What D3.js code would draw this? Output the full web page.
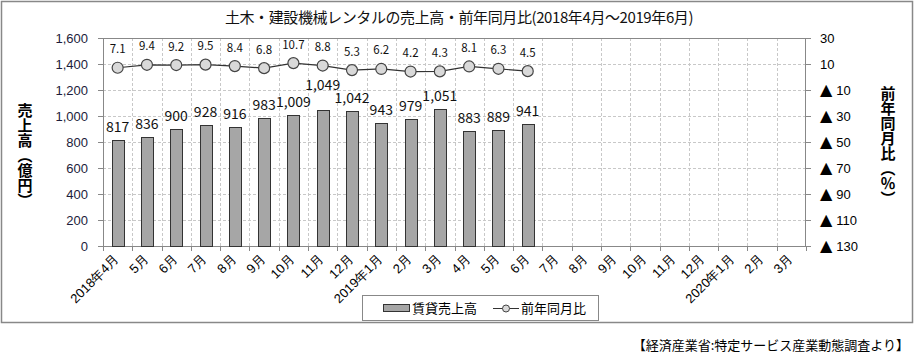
<!DOCTYPE html>
<html><head><meta charset="utf-8">
<script src="https://cdn.jsdelivr.net/npm/d3@7"></script>
<style>
body{margin:0;background:#fff;}
svg{display:block;font-family:"Noto Sans CJK JP","Noto Sans",sans-serif;}
</style></head>
<body><svg id="c" width="914" height="357"></svg>
<script>
const months = ["2018年4月","5月","6月","7月","8月","9月","10月","11月","12月","2019年1月","2月","3月","4月","5月","6月","7月","8月","9月","10月","11月","12月","2020年1月","2月","3月"];
const sales = [817,836,900,928,916,983,1009,1049,1042,943,979,1051,883,889,941];
const yoy = [7.1,9.4,9.2,9.5,8.4,6.8,10.7,8.8,5.3,6.2,4.2,4.3,8.1,6.3,4.5];
const leftTicks = [0,200,400,600,800,1000,1200,1400,1600];
const rightTicks = [30,10,-10,-30,-50,-70,-90,-110,-130];
const titleText = "土木・建設機械レンタルの売上高・前年同月比(2018年4月～2019年6月)";
const leftTitle = "売上高（億円）";
const rightTitle = "前年同月比（％）";
const legendBar = "賃貸売上高";
const legendLine = "前年同月比";
const sourceText = "【経済産業省:特定サービス産業動態調査より】";

const svg = d3.select("#c");
const P = {l:103, r:806, t:38, b:246};

// outer frame
svg.append("rect").attr("x",1.5).attr("y",1.5).attr("width",911).attr("height",321)
  .attr("fill","#fff").attr("stroke","#888").attr("stroke-width",1.5);

svg.append("text").attr("x",459).attr("y",23).attr("text-anchor","middle")
  .attr("font-size",15).attr("letter-spacing",-0.4).attr("fill","#111").text(titleText);

const idx = d3.range(months.length);
const x = d3.scaleBand().domain(idx).range([P.l,P.r]).padding(0);
const yL = d3.scaleLinear().domain([0,1600]).range([P.b,P.t]);
const yR = d3.scaleLinear().domain([-130,30]).range([P.b,P.t]);
const cx = i => x(i) + x.bandwidth()/2;

// grid
const g = svg.append("g");
g.selectAll("line.h").data(leftTicks.slice(1,-1)).join("line")
  .attr("x1",P.l).attr("x2",P.r).attr("y1",d=>Math.round(yL(d))+0.5).attr("y2",d=>Math.round(yL(d))+0.5)
  .attr("stroke","#c8c8c8").attr("stroke-dasharray","3,2");
g.selectAll("line.v").data(idx.slice(1)).join("line")
  .attr("x1",d=>Math.round(x(d))+0.5).attr("x2",d=>Math.round(x(d))+0.5).attr("y1",P.t).attr("y2",P.b)
  .attr("stroke","#c8c8c8").attr("stroke-dasharray","3,2");

// axes
const axL = d3.axisLeft(yL).tickValues(leftTicks).tickSize(5).tickFormat(d3.format(","));
const gl = svg.append("g").attr("transform",`translate(${P.l},0)`).call(axL);
gl.select(".domain").remove();
gl.selectAll(".tick line").attr("stroke","#888");
gl.selectAll(".tick text").attr("font-size",13).attr("fill","#1c1c3a").attr("x",-15);

const axR = d3.axisRight(yR).tickValues(rightTicks).tickSize(5).tickFormat(d=> String(Math.abs(d)));
const gr = svg.append("g").attr("transform",`translate(${P.r},0)`).call(axR);
gr.select(".domain").remove();
gr.selectAll(".tick line").attr("stroke","#888");
gr.selectAll(".tick text").attr("font-size",13).attr("fill","#000").attr("x",14)
  .each(function(d){
    if(d<0){
      const t = d3.select(this); const num = String(-d);
      t.text(null);
      t.append("tspan").attr("font-size",16).attr("font-family","DejaVu Sans").text("▲");
      t.append("tspan").attr("dx",4).text(num);
    }
  });

const axB = d3.axisBottom(x).tickSize(0).tickFormat(i=>months[i]);
const gb = svg.append("g").attr("transform",`translate(0,${P.b})`).call(axB);
gb.select(".domain").remove();
gb.selectAll(".tick text").attr("font-size",13).attr("fill","#000")
  .attr("text-anchor","end").attr("dy",0).attr("y",0)
  .attr("transform","translate(2,14) rotate(-45)");
// category boundary ticks
svg.append("g").selectAll("line").data(d3.range(months.length+1)).join("line")
  .attr("x1",i=>Math.round(P.l + i*x.step())+0.5).attr("x2",i=>Math.round(P.l + i*x.step())+0.5)
  .attr("y1",P.b).attr("y2",P.b+5).attr("stroke","#888");

// plot border
svg.append("rect").attr("x",P.l+0.5).attr("y",P.t+0.5).attr("width",P.r-P.l-1).attr("height",P.b-P.t)
  .attr("fill","none").attr("stroke","#888");

// bars
const bw = 12;
svg.append("g").selectAll("rect").data(sales).join("rect")
  .attr("x",(d,i)=>Math.round(cx(i)-bw/2)+0.5).attr("y",d=>Math.round(yL(d))+0.5)
  .attr("width",bw).attr("height",d=>P.b-Math.round(yL(d)))
  .attr("fill","#a6a6a6").attr("stroke","#333").attr("stroke-width",1);

// bar labels: lift a label that collides with a lower neighbour
const fmt = d3.format(",");
const base = sales.map((d,i)=>({s:fmt(d), v:d, x:cx(i), y:yL(d)-8, hw:fmt(d).length*7.6/2}));
const collide = (a,b)=> a && b && (a.hw+b.hw - Math.abs(a.x-b.x)) > 2 && Math.abs(a.y-b.y) < 12;
const barLabels = base.map((o,i)=>{
  const nb = [base[i-1], base[i+1]].filter(n=>collide(o,n));
  const lift = nb.length && nb.every(n=>o.v>n.v) ? 12 : 0;
  return Object.assign({}, o, {y:o.y-lift});
});
svg.append("g").selectAll("text").data(barLabels).join("text")
  .attr("x",d=>d.x).attr("y",d=>d.y).attr("text-anchor","middle")
  .attr("font-size",14).attr("fill","#111").text(d=>d.s);

// line
const line = d3.line().x((d,i)=>cx(i)).y(d=>yR(d));
svg.append("path").datum(yoy).attr("d",line).attr("fill","none").attr("stroke","#333").attr("stroke-width",1.2);
svg.append("g").selectAll("circle").data(yoy).join("circle")
  .attr("cx",(d,i)=>cx(i)).attr("cy",d=>yR(d)).attr("r",5.5)
  .attr("fill","#d9d9d9").attr("stroke","#444").attr("stroke-width",1.2);
svg.append("g").selectAll("text").data(yoy).join("text")
  .attr("x",(d,i)=>cx(i)).attr("y",d=>yR(d)-14.5).attr("text-anchor","middle")
  .attr("font-size",11.5).attr("fill","#111").text(d=>d.toFixed(1));

// axis titles
svg.append("text").attr("x",25).attr("y",103).attr("font-size",15).attr("font-weight","bold")
  .style("writing-mode","vertical-rl").attr("fill","#000").text(leftTitle);
svg.append("text").attr("x",888).attr("y",86).attr("font-size",15).attr("font-weight","bold")
  .style("writing-mode","vertical-rl").attr("fill","#000").text(rightTitle);

// legend
const lg = svg.append("g");
lg.append("rect").attr("x",362.5).attr("y",295.5).attr("width",236).attr("height",25)
  .attr("fill","#fff").attr("stroke","#888");
lg.append("rect").attr("x",383.5).attr("y",304.5).attr("width",26).attr("height",7)
  .attr("fill","#a6a6a6").attr("stroke","#333");
lg.append("text").attr("x",412).attr("y",313).attr("font-size",13).attr("fill","#000").text(legendBar);
lg.append("line").attr("x1",493).attr("x2",519).attr("y1",308.5).attr("y2",308.5).attr("stroke","#333");
lg.append("circle").attr("cx",506).attr("cy",308.5).attr("r",3.5).attr("fill","#d9d9d9").attr("stroke","#444");
lg.append("text").attr("x",521).attr("y",313).attr("font-size",13).attr("fill","#000").text(legendLine);

// source
svg.append("text").attr("x",909).attr("y",350).attr("text-anchor","end")
  .attr("font-size",13).attr("fill","#000").text(sourceText);
</script></body></html>
